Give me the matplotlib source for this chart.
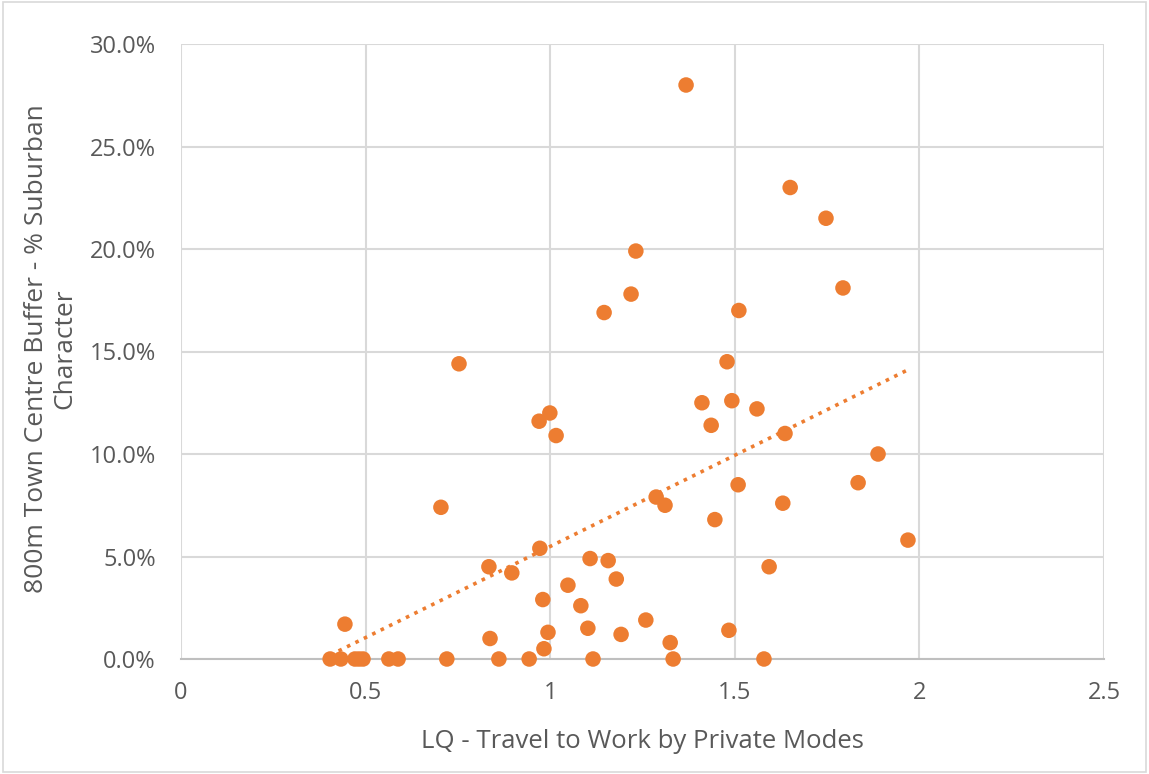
import matplotlib
matplotlib.use("Agg")
from matplotlib import pyplot as plt
from matplotlib.ticker import FuncFormatter
import numpy as np

# LQ travel to work by private modes vs % suburban character in 800m buffer
lq_private = [
    1.368, 1.650, 1.747, 1.232, 1.793, 1.219, 1.146, 1.511, 0.753, 1.479,
    1.411, 1.492, 1.560, 0.999, 0.970, 1.016, 1.436, 1.636, 1.888, 1.509,
    1.834, 1.287, 1.311, 0.704, 1.446, 1.630, 1.969, 0.972, 0.834, 0.896,
    1.108, 1.157, 1.179, 1.048, 0.980, 1.083, 1.593, 0.444, 0.837, 0.994,
    1.102, 1.192, 1.259, 1.325, 1.484, 0.983,
    0.404, 0.433, 0.471, 0.482, 0.493, 0.563, 0.588, 0.720, 0.861, 0.943,
    1.116, 1.333, 1.579,
]
pct_suburban = [
    28.0, 23.0, 21.5, 19.9, 18.1, 17.8, 16.9, 17.0, 14.4, 14.5,
    12.5, 12.6, 12.2, 12.0, 11.6, 10.9, 11.4, 11.0, 10.0, 8.5,
    8.6, 7.9, 7.5, 7.4, 6.8, 7.6, 5.8, 5.4, 4.5, 4.2,
    4.9, 4.8, 3.9, 3.6, 2.9, 2.6, 4.5, 1.7, 1.0, 1.3,
    1.5, 1.2, 1.9, 0.8, 1.4, 0.5,
    0.0, 0.0, 0.0, 0.0, 0.0, 0.0, 0.0, 0.0, 0.0, 0.0,
    0.0, 0.0, 0.0,
]

x_ticks = [0, 0.5, 1, 1.5, 2, 2.5]
x_tick_labels = ["0", "0.5", "1", "1.5", "2", "2.5"]
y_ticks = [0, 5, 10, 15, 20, 25, 30]

orange = "#ED7D31"
grey_txt = "#595959"

plt.rcParams['font.family'] = ['Open Sans', 'DejaVu Sans']

fig = plt.figure(figsize=(11.49, 7.74), dpi=100)
ax = fig.add_axes([181 / 1149, 1 - 659 / 774, (1104 - 181) / 1149, (659 - 44) / 774])

x = np.array(lq_private)
y = np.array(pct_suburban)

# linear trendline (dotted), across the data range
slope, icpt = np.polyfit(x, y, 1)
xt = np.linspace(x.min(), x.max(), 100)
ax.plot(xt, slope * xt + icpt, linestyle=(0, (1, 1.6)), color=orange,
        linewidth=2.6, zorder=2)

ax.scatter(x, y, s=125, color=orange, edgecolors="none",
           zorder=3, clip_on=False)

ax.set_xlim(0, 2.5)
ax.set_ylim(0, 30)
ax.set_xticks(x_ticks)
ax.set_xticklabels(x_tick_labels)
ax.set_yticks(y_ticks)
ax.yaxis.set_major_formatter(FuncFormatter(lambda v, p: f"{v:.1f}%"))

ax.grid(True, color="#D9D9D9", linewidth=1.5)
ax.set_axisbelow(True)
for side in ["top", "right", "left"]:
    ax.spines[side].set_visible(False)
ax.spines["bottom"].set_color("#BFBFBF")
ax.spines["bottom"].set_linewidth(1.5)
ax.tick_params(length=0, labelsize=17, colors=grey_txt)
ax.tick_params(axis="y", pad=18)
ax.tick_params(axis="x", pad=16)

ax.set_xlabel("LQ - Travel to Work by Private Modes", fontsize=18.5,
              color=grey_txt)
ax.xaxis.set_label_coords(0.5, -0.114)
ax.set_ylabel("800m Town Centre Buffer - % Suburban\nCharacter", fontsize=19,
              color=grey_txt, va="center", linespacing=1.15)
ax.yaxis.set_label_coords(-0.141, 0.505)

# thin border round the chart area
fig.patches.append(plt.Rectangle((0.003, 0.003), 0.994, 0.994, transform=fig.transFigure,
                                 fill=False, edgecolor="#D9D9D9", linewidth=1.2))

fig.savefig("out.png", dpi=100)
